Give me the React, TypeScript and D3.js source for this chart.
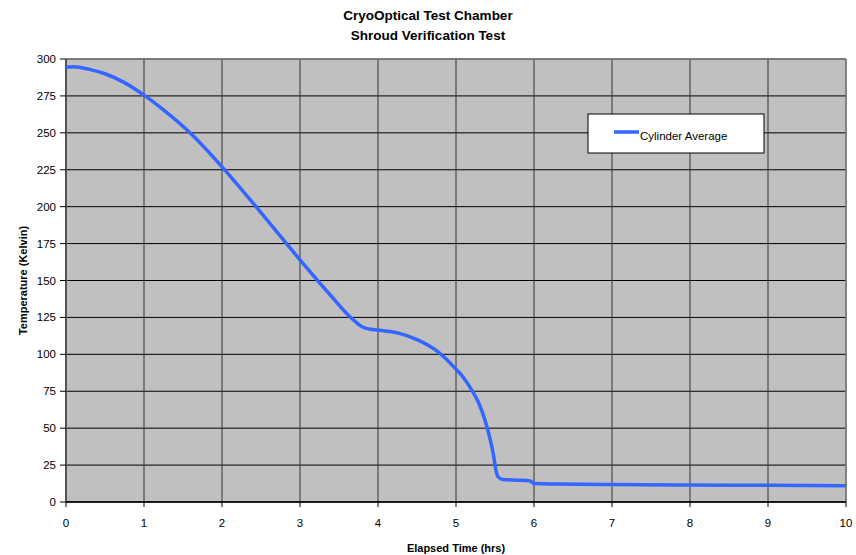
import React from "react";
import * as d3 from "d3";

const hours = [0, 0.1, 0.3, 0.5, 0.75, 1.0, 1.25, 1.6, 2.0, 2.5, 3.0, 3.4, 3.65, 3.8, 3.9, 4.0, 4.25, 4.5, 4.75, 5.0, 5.1, 5.2, 5.3, 5.38, 5.44, 5.48, 5.51, 5.54, 5.6, 5.8, 5.95, 6.0, 6.3, 7, 8, 9, 10];
const temps = [294.5, 294.8, 293, 290, 284, 275.5, 265.5, 249.5, 227, 196, 164, 139.5, 125, 118.5, 117, 116.5, 114.5, 110, 102.5, 90, 84, 76, 66, 54, 42, 32, 22, 17, 15.3, 14.8, 14.3, 12.5, 12.2, 11.8, 11.5, 11.3, 11];
const xTicks = [0, 1, 2, 3, 4, 5, 6, 7, 8, 9, 10];
const yTicks = [0, 25, 50, 75, 100, 125, 150, 175, 200, 225, 250, 275, 300];
const titleLines = ["CryoOptical Test Chamber", "Shroud Verification Test"];
const seriesName = "Cylinder Average";

const W = 856, H = 555;
const L = 66, R = 846, T = 59, B = 502;
const font = "'Liberation Sans', Arial, sans-serif";

export default function App() {
  const x = d3.scaleLinear().domain([0, 10]).range([L, R]);
  const y = d3.scaleLinear().domain([0, 300]).range([B, T]);
  const pts: [number, number][] = hours.map((h, i) => [h, temps[i]]);
  const line = d3.line<[number, number]>().x(d => x(d[0])).y(d => y(d[1])).curve(d3.curveMonotoneX);
  return (
    <svg width={W} height={H} style={{ position: "absolute", left: 0, top: 0, background: "#fff" }} fontFamily={font}>
      <rect x={L} y={T} width={R - L} height={B - T} fill="#c0c0c0" />
      {yTicks.map(v => (
        <line key={"h" + v} x1={L} x2={R} y1={y(v)} y2={y(v)} stroke="#000" strokeWidth={1} />
      ))}
      {xTicks.map(v => (
        <line key={"v" + v} x1={x(v)} x2={x(v)} y1={T} y2={B} stroke="#333" strokeWidth={1} />
      ))}
      <line x1={L} x2={R} y1={T} y2={T} stroke="#808080" strokeWidth={1.5} />
      <line x1={R} x2={R} y1={T} y2={B} stroke="#808080" strokeWidth={1.5} />
      <line x1={L} x2={L} y1={T} y2={B} stroke="#555" strokeWidth={2} />
      <line x1={L} x2={R} y1={B} y2={B} stroke="#000" strokeWidth={1.5} />
      {yTicks.map(v => (
        <g key={"yt" + v}>
          <line x1={L - 6} x2={L} y1={y(v)} y2={y(v)} stroke="#000" />
          <text x={L - 10} y={y(v)} dy="0.35em" textAnchor="end" fontSize={11.5} fill="#000">{v}</text>
        </g>
      ))}
      {xTicks.map(v => (
        <g key={"xt" + v}>
          <line x1={x(v)} x2={x(v)} y1={B} y2={B + 5} stroke="#000" />
          <text x={x(v)} y={B + 21} dy="0.35em" textAnchor="middle" fontSize={11.5} fill="#000">{v}</text>
        </g>
      ))}
      <path d={line(pts) || ""} fill="none" stroke="#3366ff" strokeWidth={3.5} strokeLinejoin="round" />
      {titleLines.map((t, i) => (
        <text key={t} x={(L + R) / 2 - 28} y={15 + i * 20} dy="0.35em" textAnchor="middle" fontSize={13.5} fontWeight="bold">{t}</text>
      ))}
      <text x={(L + R) / 2} y={548} dy="0.35em" textAnchor="middle" fontSize={11} fontWeight="bold">Elapsed Time (hrs)</text>
      <text transform={`translate(23,${(T + B) / 2}) rotate(-90)`} dy="0.35em" textAnchor="middle" fontSize={11} fontWeight="bold">Temperature (Kelvin)</text>
      <rect x={588} y={114} width={176} height={39} fill="#fff" stroke="#000" strokeWidth={1} />
      <line x1={614} x2={639} y1={132} y2={132} stroke="#3366ff" strokeWidth={3.5} />
      <text x={640} y={136} dy="0.35em" fontSize={11.5}>{seriesName}</text>
    </svg>
  );
}
